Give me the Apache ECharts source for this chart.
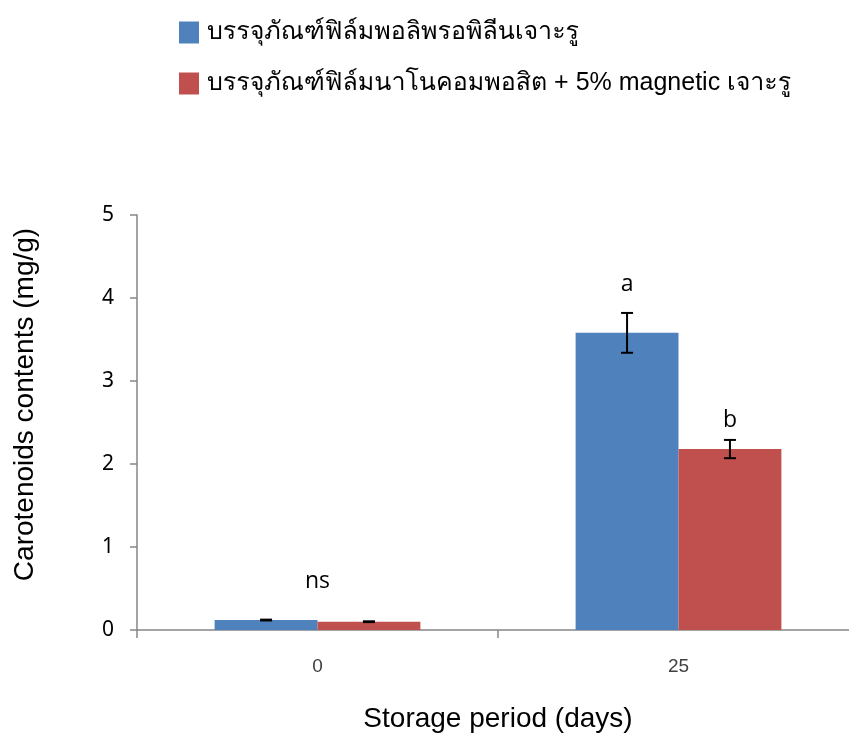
<!DOCTYPE html>
<html>
<head>
<meta charset="utf-8">
<script src="https://cdn.jsdelivr.net/npm/echarts@6/dist/echarts.min.js"></script>
<style>
  html, body { margin: 0; padding: 0; background: #fff; }
  #chart { width: 849px; height: 734px; }
</style>
</head>
<body>
<div id="chart"></div>
<script>
// Storage period categories (days)
const days = ['0', '25'];

// Series names
const nameLdpe = 'บรรจุภัณฑ์ฟิล์มพอลิพรอพิลีนเจาะรู';
const nameNano = 'บรรจุภัณฑ์ฟิล์มนาโนคอมพอสิต + 5% magnetic เจาะรู';

// Mean carotenoid contents (mg/g)
const ldpeMean = [0.12, 3.58];
const nanoMean = [0.10, 2.18];

// Standard deviations
const ldpeErr = [0.005, 0.24];
const nanoErr = [0.005, 0.11];

// Significance letters: [category index, value-axis anchor, text, side]
// side: -1 first bar, 1 second bar, 0 group centre
const sigMarks = [
  [0, 0.58, 'ns', 0],
  [1, 4.16, 'a', -1],
  [1, 2.52, 'b', 1]
];

const blue = '#4f81bd';
const red = '#c0504d';
const axisGrey = '#868686';
const catGap = 0.43;
const thaiFont = '"Liberation Sans", Garuda, Loma, "Noto Sans Thai", sans-serif';

const chart = echarts.init(document.getElementById('chart'));

function barHalf(api) {
  const band = api.size([1, 0])[0];
  return band * (1 - catGap) / 2;
}

function errorRender(means, errs, side) {
  return function (params, api) {
    const i = api.value(0);
    const m = means[i], e = errs[i];
    const w = barHalf(api);
    const cx = api.coord([i, 0])[0] + side * w / 2;
    const top = api.coord([i, m + e])[1];
    const bot = api.coord([i, m - e])[1];
    const cap = 6;
    const style = { stroke: '#000', lineWidth: 2 };
    return {
      type: 'group',
      children: [
        { type: 'line', shape: { x1: cx, y1: top, x2: cx, y2: bot }, style },
        { type: 'line', shape: { x1: cx - cap, y1: top, x2: cx + cap, y2: top }, style },
        { type: 'line', shape: { x1: cx - cap, y1: bot, x2: cx + cap, y2: bot }, style }
      ]
    };
  };
}

const option = {
  animation: false,
  backgroundColor: '#fff',
  legend: {
    orient: 'vertical',
    left: 174,
    top: 15,
    itemWidth: 20,
    itemHeight: 22,
    itemGap: 26,
    icon: 'rect',
    data: [nameLdpe, nameNano],
    textStyle: {
      fontSize: 25,
      color: '#000',
      fontFamily: thaiFont,
      padding: [0, 0, 0, 3]
    }
  },
  grid: { left: 137, width: 722, top: 215, height: 415, outerBoundsMode: 'none' },
  xAxis: {
    type: 'category',
    data: days,
    name: 'Storage period (days)',
    nameLocation: 'middle',
    nameGap: 75,
    nameTextStyle: { fontSize: 28, color: '#000', fontFamily: '"Liberation Sans", Arial, sans-serif' },
    axisLine: { lineStyle: { color: axisGrey, width: 1.5 } },
    axisTick: { show: true, length: 8, lineStyle: { color: axisGrey, width: 1.5 } },
    axisLabel: {
      margin: 27, fontSize: 19, color: '#404040',
      fontFamily: '"Liberation Sans Narrow", "Liberation Sans", Arial, sans-serif'
    }
  },
  yAxis: {
    type: 'value',
    min: 0,
    max: 5,
    interval: 1,
    name: 'Carotenoids contents (mg/g)',
    nameLocation: 'middle',
    nameGap: 98,
    nameRotate: 90,
    nameTextStyle: {
      fontSize: 28, color: '#000', fontFamily: '"Liberation Sans", Arial, sans-serif',
      padding: [0, 0, 0, 36]
    },
    axisLine: { show: true, lineStyle: { color: axisGrey, width: 1.5 } },
    axisTick: { show: true, length: 7, lineStyle: { color: axisGrey, width: 1.5 } },
    splitLine: { show: false },
    axisLabel: { margin: 23, fontSize: 21, color: '#000', fontFamily: '"Noto Sans", "Open Sans", sans-serif' }
  },
  series: [
    {
      name: nameLdpe,
      type: 'bar',
      data: ldpeMean,
      barGap: '0%',
      barCategoryGap: (catGap * 100) + '%',
      itemStyle: { color: blue }
    },
    {
      name: nameNano,
      type: 'bar',
      data: nanoMean,
      barGap: '0%',
      barCategoryGap: (catGap * 100) + '%',
      itemStyle: { color: red }
    },
    {
      type: 'custom',
      name: 'err1',
      data: days.map((d, i) => [i]),
      renderItem: errorRender(ldpeMean, ldpeErr, -1),
      z: 5
    },
    {
      type: 'custom',
      name: 'err2',
      data: days.map((d, i) => [i]),
      renderItem: errorRender(nanoMean, nanoErr, 1),
      z: 5
    },
    {
      type: 'custom',
      name: 'sig',
      data: sigMarks,
      renderItem: function (params, api) {
        const idx = params.dataIndex;
        const mark = sigMarks[idx];
        const w = barHalf(api);
        const p = api.coord([mark[0], mark[1]]);
        return {
          type: 'text',
          style: {
            x: p[0] + mark[3] * w / 2,
            y: p[1],
            text: mark[2],
            fill: '#000',
            fontSize: 23,
            fontFamily: '"Open Sans", Lato, sans-serif',
            align: 'center',
            verticalAlign: 'middle'
          }
        };
      },
      z: 6
    }
  ]
};

chart.setOption(option);
</script>
</body>
</html>
